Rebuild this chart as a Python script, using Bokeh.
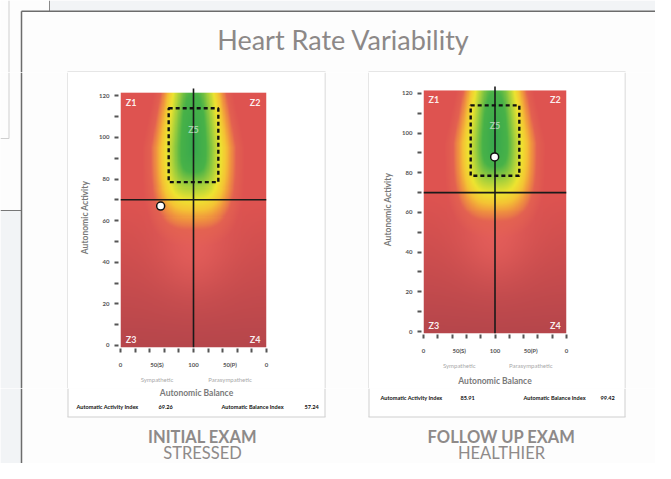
import numpy as np
from bokeh.plotting import figure
from bokeh.layouts import column, row
from bokeh.models import Range1d, LinearAxis, FixedTicker
from bokeh.core.properties import value
from bokeh.embed import file_html
from bokeh.resources import INLINE

# ---------------- data ----------------
TITLE = "Heart Rate Variability"
EXAMS = ["INITIAL EXAM", "FOLLOW UP EXAM"]
STATES = ["STRESSED", "HEALTHIER"]
INDEX_NAMES = ["Automatic Activity Index", "Automatic Balance Index"]
ACTIVITY_INDEX = ["69.26", "85.91"]
BALANCE_INDEX = ["57.24", "99.42"]
POINT_BALANCE = [55.0, 99.5]      # position of marker as drawn
POINT_ACTIVITY = [67.0, 88.0]
Y_TICKS = [0, 20, 40, 60, 80, 100, 120]
Y_MINOR = [10, 30, 50, 70, 90, 110]
X_TICKS = [0, 50, 100, 150, 200]
X_TICK_LABELS = ["0", "50(S)", "100", "50(P)", "0"]
X_MINOR = [0, 20, 40, 60, 80, 100, 120, 140, 160, 180, 200]
SIDE_TICKS = [50, 150]
SIDE_LABELS = ["Sympathetic", "Parasympathetic"]
X_TITLE = "Autonomic Balance"
Y_TITLE = "Autonomic Activity"
ZONES = ["Z1", "Z2", "Z3", "Z4", "Z5"]
ZONE_X = [14.5, 184.5, 14.5, 184.5, 100]
ZONE_Y = [117, 117, 3, 3, 104]
ZONE_ALPHA = [0.92, 0.92, 0.92, 0.92, 0.55]
Z5_BOX = dict(left=66, right=134, bottom=78.5, top=114)
CENTER_BALANCE = 100
ACTIVITY_LINE = 70
X_LIM = (0, 200)
Y_LIM = (-1, 124)
HEAT_TOP = 121.5

FONT = "Lato"
CARD = "#fdfdfd"
PAGE = "#f2f4f6"
CARD_EDGE = "#6c6c6c"
PANEL_EDGE = "#cfcfcf"
CAPTION = "#8e8a89"
AXIS_TITLE = "#7a7a7a"

# ---------------- background field (rendering only) ----------------
GX = np.linspace(X_LIM[0], X_LIM[1], 201)
GY = np.linspace(Y_LIM[0], HEAT_TOP, 246)
X, Y = np.meshgrid(GX, GY)
dx = X - CENTER_BALANCE
dy = Y - 95.0
ax_ = np.where(dy > 0, 62.0 - 14.0 * np.clip(dy, 0, None) / 26.0, 62.0)
ay_ = np.where(dy > 0, 90.0, 42.0)
d = (np.abs(dx / ax_) ** 3 + np.abs(dy / ay_) ** 3) ** (1 / 3)
stops_d = [0, 0.28, 0.45, 0.6, 0.72, 0.82, 0.95]
stops_rgb = [(55, 168, 78), (72, 178, 72), (165, 208, 60), (238, 228, 48),
             (244, 196, 52), (240, 150, 62), (228, 100, 80)]
ramp = np.stack([np.interp(d, stops_d, [c[i] for c in stops_rgb]) for i in range(3)], -1)
t = np.clip(Y / 70.0, 0, 1)[..., None]
base = np.array([182, 70, 75]) * (1 - t) + np.array([222, 83, 80]) * t
glow = (0.6 * np.exp(-((dx / 50.0) ** 2 + ((Y - 48.0) / 22.0) ** 2)))[..., None]
red = base * (1 - glow) + np.array([238, 102, 96]) * glow
w = np.clip((d - 0.9) / 0.25, 0, 1)[..., None]
rgb = ramp * (1 - w) + red * w
rgba = np.empty(X.shape + (4,), dtype=np.uint8)
rgba[..., :3] = np.clip(np.round(rgb), 0, 255).astype(np.uint8)
rgba[..., 3] = 255
IMG = np.ascontiguousarray(rgba).view(np.uint32).reshape(X.shape)


def deco(x0, x1, y0, y1, bg=CARD):
    p = figure(width=x1 - x0, height=y1 - y0, x_range=Range1d(x0, x1), y_range=Range1d(y1, y0),
               output_backend="svg", toolbar_location=None, x_axis_location=None,
               y_axis_location=None, min_border=0, outline_line_color=None,
               background_fill_color=bg, border_fill_color=bg, frame_align=False)
    p.grid.grid_line_color = None
    return p


def panel(i, width, height, bl, br, bt, bb, with_x_title):
    p = figure(width=width, height=height, x_range=Range1d(*X_LIM), y_range=Range1d(*Y_LIM),
               output_backend="svg", toolbar_location=None, frame_align=False,
               min_border_left=bl, min_border_right=br, min_border_top=bt, min_border_bottom=bb,
               outline_line_color=None, background_fill_color="white", border_fill_color="white")
    p.grid.grid_line_color = None
    p.image_rgba(image=[IMG], x=X_LIM[0], y=Y_LIM[0], dw=X_LIM[1] - X_LIM[0], dh=HEAT_TOP - Y_LIM[0])
    p.segment(x0=[CENTER_BALANCE, X_LIM[0]], y0=[Y_LIM[0], ACTIVITY_LINE],
              x1=[CENTER_BALANCE, X_LIM[1]], y1=[123.5, ACTIVITY_LINE],
              line_color="#1a1a1a", line_width=1.6)
    p.quad(**{k: [v] for k, v in Z5_BOX.items()}, fill_color=None, line_color="#111111",
           line_width=2.4, line_dash="4 3")
    p.text(x=ZONE_X, y=ZONE_Y, text=ZONES, text_font=value(FONT), text_font_style="bold",
           text_font_size="9px", text_color="white", text_alpha=ZONE_ALPHA,
           text_align="center", text_baseline="middle")
    p.scatter(x=[POINT_BALANCE[i]], y=[POINT_ACTIVITY[i]], size=8, marker="circle",
              fill_color="white", line_color="#111111", line_width=1.5)

    # y axis
    ya = p.yaxis[0]
    ya.ticker = FixedTicker(ticks=Y_TICKS, minor_ticks=Y_MINOR)
    ya.axis_line_color = None
    for pre in ("major", "minor"):
        setattr(ya, pre + "_tick_in", -2)
        setattr(ya, pre + "_tick_out", 6)
        setattr(ya, pre + "_tick_line_width", 2)
        setattr(ya, pre + "_tick_line_color", "#555555")
    ya.major_label_standoff = 5
    ya.major_label_text_font = FONT
    ya.major_label_text_font_style = "bold"
    ya.major_label_text_font_size = "6px"
    ya.major_label_text_color = "#555555"
    ya.axis_label = Y_TITLE
    ya.axis_label_text_font = FONT
    ya.axis_label_text_font_style = "bold"
    ya.axis_label_text_font_size = "8.5px"
    ya.axis_label_text_color = AXIS_TITLE
    ya.axis_label_standoff = 6

    # x axis (tick marks + value labels)
    xa = p.xaxis[0]
    xa.axis_label = None
    xa.axis_label_standoff = 0
    xa.axis_label_text_font_size = "0px"
    xa.ticker = FixedTicker(ticks=X_TICKS, minor_ticks=X_MINOR)
    xa.major_label_overrides = {float(k): v for k, v in zip(X_TICKS, X_TICK_LABELS)}
    xa.axis_line_color = None
    xa.major_tick_line_color = None
    xa.major_tick_in = -1
    xa.major_tick_out = 5
    xa.minor_tick_in = -1
    xa.minor_tick_out = 5
    xa.minor_tick_line_width = 2
    xa.minor_tick_line_color = "#555555"
    xa.major_label_standoff = 8
    xa.major_label_text_font = FONT
    xa.major_label_text_font_style = "bold"
    xa.major_label_text_font_size = "6px"
    xa.major_label_text_color = "#555555"

    # second x axis (side names, optionally axis title)
    xb = LinearAxis(ticker=FixedTicker(ticks=SIDE_TICKS),
                    major_label_overrides={float(k): v for k, v in zip(SIDE_TICKS, SIDE_LABELS)},
                    axis_line_color=None,
                    major_tick_line_color=None, major_tick_in=0, major_tick_out=0,
                    minor_tick_line_color=None, major_label_standoff=5,
                    major_label_text_font=FONT, major_label_text_font_size="6px",
                    major_label_text_color="#a9a9a9", axis_label_text_font=FONT,
                    axis_label_text_font_style="bold", axis_label_text_font_size="8.5px",
                    axis_label_text_color=AXIS_TITLE, axis_label_standoff=4)
    if with_x_title:
        xb.axis_label = X_TITLE
    else:
        xb.axis_label = None
        xb.axis_label_standoff = 0
        xb.axis_label_text_font_size = "0px"
    p.add_layout(xb, "below")
    return p


# ---------------- page pieces (reference pixel coordinates) ----------------
ROW_TOP, ROW_BOT = 72, 388

top = deco(0, 655, 0, ROW_TOP)
top.quad(left=[49], right=[655], top=[0], bottom=[10.5], fill_color=PAGE, line_color=None)
top.segment(x0=[49, 8.5], y0=[0, 0], x1=[49, 8.5], y1=[10.5, 72],
            line_color=["#8a8a8a", PANEL_EDGE], line_width=1)
top.segment(x0=[21, 21], y0=[10.75, 10.75], x1=[655, 21], y1=[10.75, 72],
            line_color=CARD_EDGE, line_width=1.5)
top.segment(x0=[67, 368], y0=[71.5, 71.5], x1=[325, 625], y1=[71.5, 71.5],
            line_color=PANEL_EDGE, line_width=1)
top.text(x=[343], y=[39], text=[TITLE], text_font=value(FONT), text_font_size="27px",
         text_color="#8c8887", text_align="center", text_baseline="middle")

mL = deco(0, 68, ROW_TOP, ROW_BOT)
mL.quad(left=[0], right=[21], top=[210], bottom=[ROW_BOT], fill_color=PAGE, line_color=None)
mL.segment(x0=[0, 8.5, 0], y0=[210, 72, 138], x1=[21, 8.5, 8.5], y1=[210, 138, 138],
           line_color=["#777777", PANEL_EDGE, PANEL_EDGE], line_width=1)
mL.segment(x0=[21], y0=[ROW_TOP], x1=[21], y1=[ROW_BOT], line_color=CARD_EDGE, line_width=1.5)
mL.segment(x0=[67.5], y0=[ROW_TOP], x1=[67.5], y1=[ROW_BOT], line_color=PANEL_EDGE, line_width=1)

gap = deco(324, 369, ROW_TOP, ROW_BOT)
gap.segment(x0=[324.5, 368.5], y0=[ROW_TOP, ROW_TOP], x1=[324.5, 368.5], y1=[ROW_BOT, ROW_BOT],
            line_color=PANEL_EDGE, line_width=1)

mR = deco(624, 655, ROW_TOP, ROW_BOT)
mR.segment(x0=[624.5], y0=[ROW_TOP], x1=[624.5], y1=[ROW_BOT], line_color=PANEL_EDGE, line_width=1)

bot = deco(0, 655, ROW_BOT, 463)
bot.quad(left=[0], right=[21], top=[ROW_BOT], bottom=[463], fill_color=PAGE, line_color=None)
bot.segment(x0=[21], y0=[ROW_BOT], x1=[21], y1=[463], line_color=CARD_EDGE, line_width=1.5)
bot.quad(left=[67.5, 368.5], right=[324.5, 624.5], top=[ROW_BOT, ROW_BOT], bottom=[416.5, 416.5],
         fill_color="white", line_color=None)
bot.segment(x0=[67.5, 324.5, 368.5, 624.5, 67, 368],
            y0=[ROW_BOT, ROW_BOT, ROW_BOT, ROW_BOT, 416.5, 416.5],
            x1=[67.5, 324.5, 368.5, 624.5, 325, 625],
            y1=[416.5, 416.5, 416.5, 416.5, 416.5, 416.5],
            line_color=PANEL_EDGE, line_width=1)
# left panel's balance title sits below its side names
bot.text(x=[196], y=[392], text=[X_TITLE], text_font=value(FONT), text_font_style="bold",
         text_font_size="8.5px", text_color=AXIS_TITLE, text_align="center", text_baseline="middle")
# index rows
IDX_X = [[76, 158, 221, 304], [380, 460, 523, 600]]
IDX_Y = [406, 397]
for i in range(2):
    bot.text(x=IDX_X[i], y=[IDX_Y[i]] * 4,
             text=[INDEX_NAMES[0], ACTIVITY_INDEX[i], INDEX_NAMES[1], BALANCE_INDEX[i]],
             text_font=value(FONT), text_font_style="bold", text_font_size="5.6px",
             text_color="#111111", text_align="left", text_baseline="middle")
bot.text(x=[202, 501], y=[436, 436], text=EXAMS, text_font=value(FONT), text_font_style="bold",
         text_font_size="16.5px", text_color=CAPTION, text_align="center", text_baseline="middle")
bot.text(x=[202, 501], y=[452, 452], text=STATES, text_font=value(FONT), text_font_size="16.5px",
         text_color=CAPTION, text_align="center", text_baseline="middle")

pL = panel(0, 256, ROW_BOT - ROW_TOP, 52, 58, 15, 41, False)
pR = panel(1, 255, ROW_BOT - ROW_TOP, 54, 58, 13, 51, True)

layout = column(top, row(mL, pL, gap, pR, mR), bot)
open("out.html", "w").write(file_html(layout, INLINE))
